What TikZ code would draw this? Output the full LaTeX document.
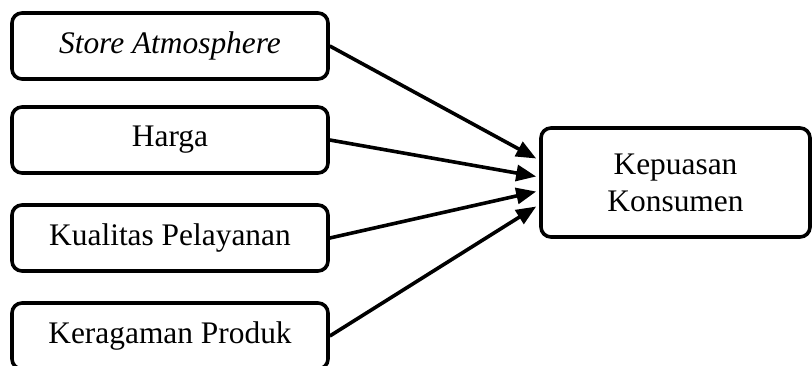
\documentclass[tikz,border=0pt]{standalone}
\usepackage{fontspec}
\setmainfont{Liberation Serif}
\usetikzlibrary{positioning,arrows.meta}

\begin{document}
\begin{tikzpicture}[auto, node distance=15pt,
    every node/.style={draw, rectangle, rounded corners=5pt, line width=1.8pt, align=center, font=\fontsize{15.7}{18.5}\selectfont},
    varbox/.style={minimum width=158pt, minimum height=33pt},
    hasil/.style={minimum width=134.5pt, minimum height=54.5pt}]
    \useasboundingbox (0,0) rectangle (406pt,-182.5pt);
    \node [varbox] at (85pt,-23pt) (atm) {\itshape Store Atmosphere};
    \node [varbox, below=12.2pt of atm] (hrg) {Harga};
    \node [varbox, below=14.2pt of hrg] (kpl) {Kualitas Pelayanan};
    \node [varbox, below=14.2pt of kpl] (krp) {Keragaman Produk};
    
    \node [hasil] at (337.75pt,-91.25pt) (kep) {Kepuasan\\Konsumen};
    
    \draw [-{Triangle[length=10pt,width=8pt]}, line width=1.8pt] (atm.east) -- ([xshift=-1.5pt,yshift=12pt]kep.west);
    \draw [-{Triangle[length=10pt,width=8pt]}, line width=1.8pt] (hrg.east) -- ([xshift=-1.5pt,yshift=3pt]kep.west);
    \draw [-{Triangle[length=10pt,width=8pt]}, line width=1.8pt] (kpl.east) -- ([xshift=-1.5pt,yshift=-4.5pt]kep.west);
    \draw [-{Triangle[length=10pt,width=8pt]}, line width=1.8pt] (krp.east) -- ([xshift=-1.5pt,yshift=-12pt]kep.west);
\end{tikzpicture}
\end{document}
